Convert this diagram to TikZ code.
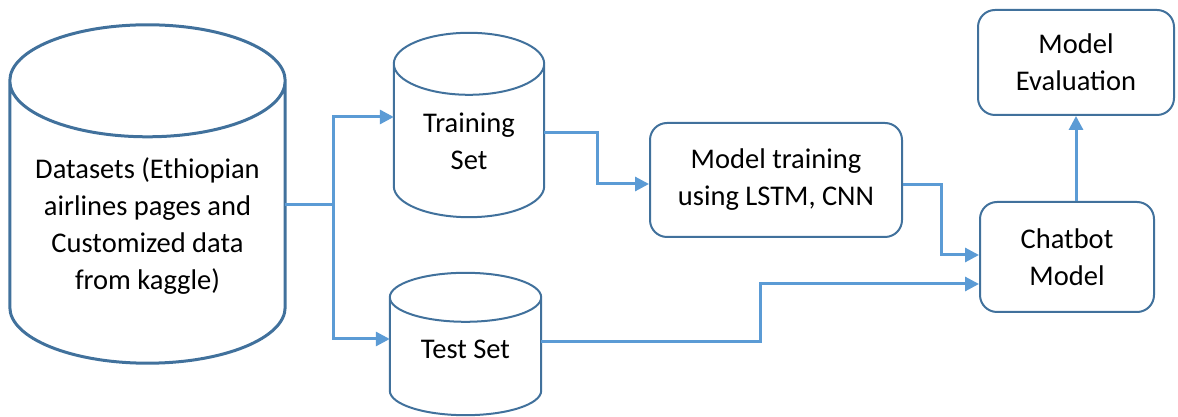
\documentclass[tikz,border=0pt]{standalone}
\usepackage{fontspec}
\setmainfont{Carlito}
\usepackage{xcolor}
\usetikzlibrary{positioning, arrows.meta, calc}

\definecolor{boxblue}{RGB}{65,113,156}
\definecolor{linkblue}{RGB}{91,155,213}

% text of a cylinder, pushed down by half of #1
\newcommand{\dbtext}[2]{\raisebox{0pt}[\dimexpr\height+#1\relax]{\begin{tabular}{@{}c@{}}#2\end{tabular}}}

% outline of a cylinder round node #1, ellipse y radius #2, line width #3
\newcommand{\dbdraw}[3]{%
  \path let \p1 = (#1.north west), \p2 = (#1.south east), \n1 = {(\x2-\x1)/2} in
    [draw=boxblue, line width=#3]
    (\x1,\y1-#2) -- (\x1,\y2+#2) arc[start angle=180, end angle=360, x radius=\n1, y radius=#2]
    -- (\x2,\y1-#2) arc[start angle=0, end angle=360, x radius=\n1, y radius=#2];
}

\tikzset{
  db/.style = {rectangle, inner sep=0pt},
  stage/.style = {rectangle, rounded corners=17pt, draw=boxblue, line width=2pt,
    align=center, inner sep=0pt},
  conn/.style = {draw=linkblue, line width=3pt, -{Triangle[length=14pt,width=14pt]}},
  link/.style = {draw=linkblue, line width=3pt}
}

\begin{document}
\begin{tikzpicture} [x=1pt, y=1pt, font=\fontsize{28.5}{37}\selectfont]

        \useasboundingbox (0,0) rectangle (1178,417);

        \node (data) [db, minimum width=275pt, minimum height=338pt] at (147.5,223)
        {\dbtext{65pt}{Datasets (Ethiopian\\airlines pages and\\Customized data\\from kaggle)}};
        \node (train) [db, minimum width=150pt, minimum height=184pt] at (469,292)
        {\dbtext{37pt}{Training\\Set}};
        \node (test) [db, minimum width=151pt, minimum height=142pt] at (465.5,73)
        {\dbtext{14pt}{Test Set}};
        \dbdraw{data}{56pt}{3pt}
        \dbdraw{train}{31pt}{2pt}
        \dbdraw{test}{24.5pt}{2pt}

        \node (fit) [stage, minimum width=252pt, minimum height=114pt] at (776,237)
        {Model training\\using LSTM, CNN};
        \node (bot) [stage, minimum width=174pt, minimum height=110pt] at (1067,160) {Chatbot\\Model};
        \node (eval) [stage, minimum width=196pt, minimum height=105pt] at (1076,354.5) {Model\\Evaluation};

        % split of the data
        \coordinate (split) at (333,212);
        \draw [link] (split -| data.east) -- (split);
        \draw [conn] (split) |- (train.west |- 0,300);
        \draw [conn] (split) |- (test.west |- 0,78);

        \draw [conn] (train.east |- 0,284) -| (597,233) -- (fit.west |- 0,233);
        \draw [conn] (fit.east |- 0,232) -| (941,162) -- (bot.west |- 0,162);
        \draw [conn] (test.east |- 0,75) -| (760,133) -- (bot.west |- 0,133);
        \draw [conn] (eval.south |- bot.north) -- (eval.south);

    \end{tikzpicture}
\end{document}
